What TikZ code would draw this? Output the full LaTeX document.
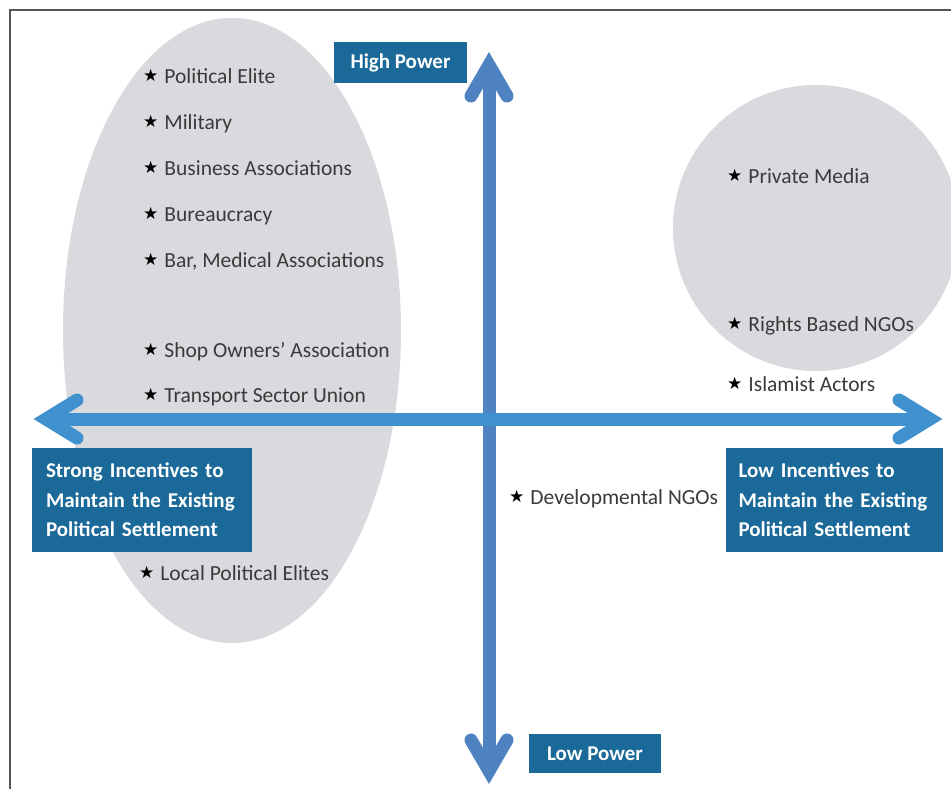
\documentclass[tikz,border=0pt]{standalone}
\usepackage{fontspec}
\setmainfont{Carlito}
\newfontfamily\symfont{DejaVu Sans}
\usetikzlibrary{calc,shapes.geometric}

\definecolor{blobgray}{HTML}{D8DADE}
\definecolor{boxblue}{HTML}{1A6998}
\definecolor{vblue}{HTML}{4F82C0}
\definecolor{hblue}{HTML}{3F92CE}
\definecolor{itemtext}{HTML}{3A3A3A}
\definecolor{framegray}{HTML}{555555}

% a star bullet in front of each actor
\newcommand\staritem[1]{\raisebox{1.5pt}{\textcolor{black}{\symfont\fontsize{17}{17}\selectfont\char"2605}}\hspace{6pt}#1}

\tikzset{
  item/.style={anchor=base west, inner sep=0pt, text=itemtext,
    font=\fontsize{21.5}{25}\selectfont},
  tag/.style={fill=boxblue, text=white, inner sep=0pt,
    font=\bfseries\fontsize{21}{29.5}\selectfont},
  bigtag/.style={tag, align=left, text width=192pt, minimum width=220pt,
    minimum height=104pt},
  blob/.style={ellipse, fill=blobgray, inner sep=0pt},
  vaxis/.style={draw=vblue, line width=13pt},
  haxis/.style={draw=hblue, line width=13pt},
  head/.style={line join=miter, line cap=round},
}

\begin{document}
\begin{tikzpicture}[x=1pt, y=-1pt]
  \useasboundingbox (0,0) rectangle (951,788);

  % frame
  \draw[framegray, line width=2pt] (10,790) -- (10,10) -- (953,10);

  % groups of actors
  \node[blob, minimum width=338pt, minimum height=625pt] (elite) at (232,330.5) {};
  \node[blob, minimum width=286pt, minimum height=286pt] (media) at (816,228) {};

  % axis end points
  \coordinate (top) at (489,52);
  \coordinate (bot) at (489,784);
  \coordinate (lft) at (33,419);
  \coordinate (rgt) at (943,419);

  % power axis
  \draw[vaxis, shorten <=14pt, shorten >=14pt] (top) -- (bot);
  \draw[vaxis, head] ($(top)+(-18,44)$) -- ($(top)+(0,13)$) -- ($(top)+(18,44)$);
  \draw[vaxis, head] ($(bot)+(-18,-44)$) -- ($(bot)+(0,-13)$) -- ($(bot)+(18,-44)$);

  % incentive axis
  \draw[haxis, shorten <=14pt, shorten >=14pt] (lft) -- (rgt);
  \draw[haxis, head] ($(lft)+(44,-19)$) -- ($(lft)+(13,0)$) -- ($(lft)+(44,19)$);
  \draw[haxis, head] ($(rgt)+(-44,-19)$) -- ($(rgt)+(-13,0)$) -- ($(rgt)+(-44,19)$);

  % axis labels
  \node[tag, minimum width=133pt, minimum height=41pt] (high) at (400.5,62.5) {High Power};
  \node[tag, minimum width=132pt, minimum height=39pt] (low) at (595,753.5) {Low Power};
  \node[bigtag] (strong) at (142,500)
    {Strong Incentives to\\Maintain the Existing\\Political Settlement};
  \node[bigtag, minimum width=217pt] (weak) at (834.5,500)
    {Low Incentives to\\Maintain the Existing\\Political Settlement};

  % actors
  \node[item] (pe)  at (143,83)  {\staritem{Political Elite}};
  \node[item] (mil) at (143,129) {\staritem{Military}};
  \node[item] (bus) at (143,175) {\staritem{Business Associations}};
  \node[item] (bur) at (143,221) {\staritem{Bureaucracy}};
  \node[item] (bar) at (143,267) {\staritem{Bar, Medical Associations}};
  \node[item] (shp) at (143,357) {\staritem{Shop Owners’ Association}};
  \node[item] (trn) at (143,402) {\staritem{Transport Sector Union}};
  \node[item] (lpe) at (139,580) {\staritem{Local Political Elites}};
  \node[item] (pm)  at (727,183) {\staritem{Private Media}};
  \node[item] (rb)  at (727,331) {\staritem{Rights Based NGOs}};
  \node[item] (isl) at (727,391) {\staritem{Islamist Actors}};
  \node[item] (dev) at (509,504) {\staritem{Developmental NGOs}};
\end{tikzpicture}
\end{document}
